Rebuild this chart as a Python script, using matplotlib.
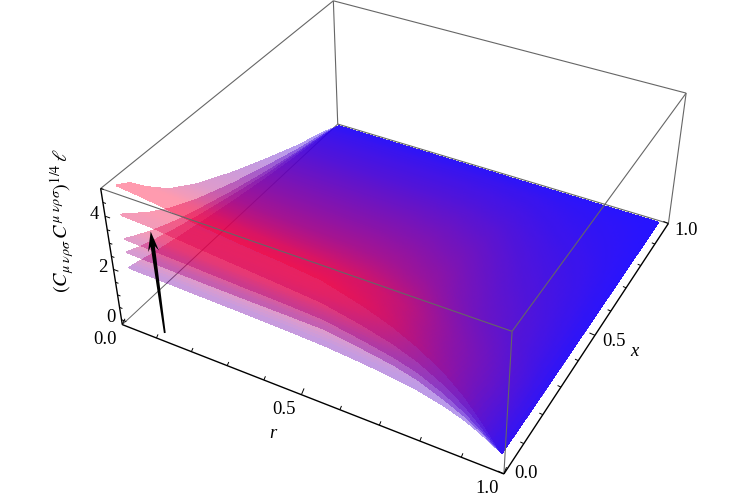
import numpy as np
import matplotlib
matplotlib.use("Agg")
import matplotlib.pyplot as plt
from matplotlib.colors import LinearSegmentedColormap, Normalize
from matplotlib.patches import Polygon

plt.rcParams['mathtext.fontset'] = 'stix'
plt.rcParams['font.family'] = ['Liberation Serif', 'DejaVu Serif']

# ---- data ----
r_nodes = [0.022, 0.10, 0.22, 0.35, 0.45, 0.55, 0.65, 0.72, 0.78, 0.84, 0.89, 0.93, 0.98]
x_nodes = [0.03, 0.07, 0.12, 0.20, 0.30, 0.45, 0.60, 0.75, 0.90, 0.97]
front_edge_1 = [1.90, 1.88, 1.84, 1.80, 1.76, 1.70, 1.58, 1.46, 1.33, 1.12, 0.87, 0.58, 0.15]
front_edge_2 = [2.50, 2.47, 2.42, 2.38, 2.36, 2.33, 2.12, 1.95, 1.72, 1.37, 1.02, 0.67, 0.15]
front_edge_3 = [3.00, 2.97, 2.90, 2.82, 2.77, 2.70, 2.45, 2.25, 2.00, 1.60, 1.18, 0.75, 0.15]
front_edge_4 = [3.90, 3.85, 3.70, 3.55, 3.43, 3.30, 3.00, 2.73, 2.40, 1.93, 1.42, 0.88, 0.15]
front_edge_5 = [4.96, 4.85, 4.60, 4.40, 4.28, 4.12, 3.72, 3.35, 2.92, 2.38, 1.75, 1.08, 0.15]
falloff_1 = [1.00, 0.94, 0.86, 0.76, 0.64, 0.47, 0.32, 0.19, 0.07, 0.0]
falloff_2 = [1.00, 0.92, 0.84, 0.73, 0.61, 0.45, 0.30, 0.18, 0.07, 0.0]
falloff_3 = [1.00, 0.92, 0.83, 0.71, 0.59, 0.43, 0.29, 0.17, 0.06, 0.0]
falloff_4 = [1.00, 0.92, 0.82, 0.69, 0.56, 0.41, 0.28, 0.16, 0.06, 0.0]
falloff_5 = [1.00, 0.95, 0.84, 0.69, 0.56, 0.41, 0.28, 0.16, 0.06, 0.0]
# blue (0) to red (1) seen across the stacked interior
interior_colour_r = [1.0, 1.0, 1.0, 1.0, 1.0, 0.95, 0.82, 0.64, 0.50, 0.40, 0.30, 0.20, 0.05]
interior_colour_x = [1.0, 1.0, 1.0, 0.85, 0.64, 0.47, 0.33, 0.20, 0.09, 0.02]
interior_share_x = [0.0, 0.5, 0.85, 1.0, 1.0, 1.0, 1.0, 1.0, 1.0, 1.0]
r_ticks = [0.0, 0.5, 1.0]
x_ticks = [0.0, 0.5, 1.0]
z_ticks = [0, 2, 4]
z_limits = (-0.2, 5.0)

# ---- camera calibration: where the eight box corners sit in the image ----
box_corners = [(0, 0, 0), (1, 0, 0), (1, 1, 0), (0, 1, 0), (0, 0, 1), (1, 0, 1), (1, 1, 1), (0, 1, 1)]
corner_pixels = [(122, 324), (504, 474), (668.3, 224), (338, 124),
                 (100.7, 189.3), (512.3, 331), (686, 92.7), (333.3, 0.7)]
arrow_tail_px = (164.8, 333.0)
arrow_tip_px = (150.7, 231.5)
# agg composites the filtered layer so that the factor acts twice: sqrt(0.40)
SHEET_ALPHA = 0.63


def fit_camera():
    rows, rhs = [], []
    for (a, b, c), (u, v) in zip(box_corners, corner_pixels):
        z = z_limits[0] + c * (z_limits[1] - z_limits[0])
        rows.append([a, b, z, 1, 0, 0, 0, 0, -u * a, -u * b, -u * z])
        rows.append([0, 0, 0, 0, a, b, z, 1, -v * a, -v * b, -v * z])
        rhs += [u, v]
    s = np.linalg.lstsq(np.array(rows, float), np.array(rhs, float), rcond=None)[0]
    return np.array([s[:4], s[4:8], [s[8], s[9], s[10], 1.0]])


CAM = fit_camera()


def to_pixel(a, b, c):
    h = CAM @ np.array([a, b, c, 1.0])
    return h[0] / h[2], h[1] / h[2]


W, H = 750, 501
fig = plt.figure(figsize=(W / 100, H / 100), dpi=100)
ax = fig.add_axes([0, -0.25, 1, 1.5], projection='3d')
ax.set_axis_off()
ax.computed_zorder = False
ax.set_proj_type('ortho')


def get_proj():
    to_data = ax.transData.inverted().get_matrix() @ np.array([[1, 0, 0], [0, -1, H], [0, 0, 1.0]])
    p = to_data @ CAM
    return np.array([p[0], p[1], [-0.3, 0.5, -0.2, 3.0], p[2]])


ax.get_proj = get_proj

BLUE, RED = (0.08, 0.0, 1.0), (1.0, 0.0, 0.2)
cmap = LinearSegmentedColormap.from_list('br', [BLUE, RED])
norm = Normalize(0, 4.4, clip=True)
GREY = '#666666'


def seg(p, q, color=GREY, lw=0.8, zo=1):
    ax.plot([p[0], q[0]], [p[1], q[1]], [p[2], q[2]], color=color, lw=lw, zorder=zo,
            solid_capstyle='butt', clip_on=False)


def fade(img, dpi):
    out = img.copy()
    out[..., 3] *= SHEET_ALPHA
    return out, 0, 0


z0, z1 = z_limits
# back box edges, below the sheets
seg((0, 0, z0), (0, 1, z0), zo=1, lw=0.7)
seg((0, 1, z0), (1, 1, z0), zo=1)
seg((0, 1, z0), (0, 1, z1), zo=1)
seg((0, 0, z1), (0, 1, z1), zo=1)
seg((0, 1, z1), (1, 1, z1), zo=1)

fronts = [front_edge_1, front_edge_2, front_edge_3, front_edge_4, front_edge_5]
falls = [falloff_1, falloff_2, falloff_3, falloff_4, falloff_5]
# shading mesh: each sheet's table is refined only so that the colour runs smoothly
fine_r = np.linspace(r_nodes[0], r_nodes[-1], 120)
fine_x = np.linspace(x_nodes[0], x_nodes[-1], 90)
RR, XX = np.meshgrid(fine_r, fine_x)
interior = np.outer(np.interp(fine_x, x_nodes, interior_colour_x), np.interp(fine_r, r_nodes, interior_colour_r))
share = np.interp(fine_x, x_nodes, interior_share_x)[:, None]
for i, (fe, fa) in enumerate(zip(fronts, falls)):
    ZZ = np.outer(np.interp(fine_x, x_nodes, fa), np.interp(fine_r, r_nodes, fe))
    own = norm(ZZ)
    tone = own + (interior - own) * share
    sheet = ax.plot_surface(RR, XX, ZZ, rstride=1, cstride=1, facecolors=cmap(tone),
                            shade=False, antialiased=False, linewidth=1.0, zorder=2 + i)
    sheet.set_agg_filter(fade)

# front box edges over the sheets
seg((0, 0, z1), (1, 0, z1), zo=10)
seg((1, 0, z1), (1, 1, z1), zo=10)
seg((1, 0, z0), (1, 0, z1), zo=10)
seg((1, 1, z0), (1, 1, z1), zo=10)

# axes and ticks
BLK = 'black'
seg((0, 0, z0), (1, 0, z0), BLK, 1.0, 11)
seg((1, 0, z0), (1, 1, z0), BLK, 1.0, 11)
seg((0, 0, z0), (0, 0, z1), BLK, 1.0, 11)
for k in range(11):
    t = k / 10
    f = 1.0 if k % 5 == 0 else 0.6
    seg((t, 0, z0), (t, 0.012 * f, z0 + 0.12 * f), BLK, 0.7, 11)
    seg((1, t, z0), (1 - 0.014 * f, t, z0 + 0.02 * f), BLK, 0.7, 11)
for k in range(11):
    t = k / 2
    f = 1.0 if k % 4 == 0 else 0.6
    seg((0, 0, t), (0.014 * f, 0, t), BLK, 0.7, 11)


def label(px, py, s, **kw):
    fig.text(px / W, 1 - py / H, s, ha='center', va='center', **kw)


FS = 13.4
for t in r_ticks:
    u, v = to_pixel(t, 0, z0)
    label(u - 17, v + 14.5, f'{t:.1f}', fontsize=FS)
for t, (du, dv) in zip(x_ticks, [(22, 0), (19, 6), (18, 7)]):
    u, v = to_pixel(1, t, z0)
    label(u + du, v + dv, f'{t:.1f}', fontsize=FS)
for t in z_ticks:
    u, v = to_pixel(0, 0, t)
    label(u - 11, v - 2, f'{t}', fontsize=FS)

label(273, 434, 'r', fontsize=FS, style='italic')
label(634, 351, 'x', fontsize=FS, style='italic')
label(62, 221, r'$(C_{\mu\ \nu\rho\sigma}\,C^{\mu\ \nu\rho\sigma})^{1/4}\,\ell$', fontsize=14.5, rotation=90)

# the hand-placed arrow
tail, tip = np.array(arrow_tail_px), np.array(arrow_tip_px)
d = (tip - tail) / np.linalg.norm(tip - tail)
n = np.array([-d[1], d[0]])
outline = [tail + 0.9 * n, tip - 15 * d + 2.1 * n, tip - 20 * d + 5.5 * n, tip,
           tip - 20 * d - 5.5 * n, tip - 15 * d - 2.1 * n, tail - 0.9 * n]
fig.add_artist(Polygon([(p[0] / W, 1 - p[1] / H) for p in outline], closed=True, facecolor='black',
                       edgecolor='none', transform=fig.transFigure, zorder=5))

fig.savefig('out.png', dpi=100)
